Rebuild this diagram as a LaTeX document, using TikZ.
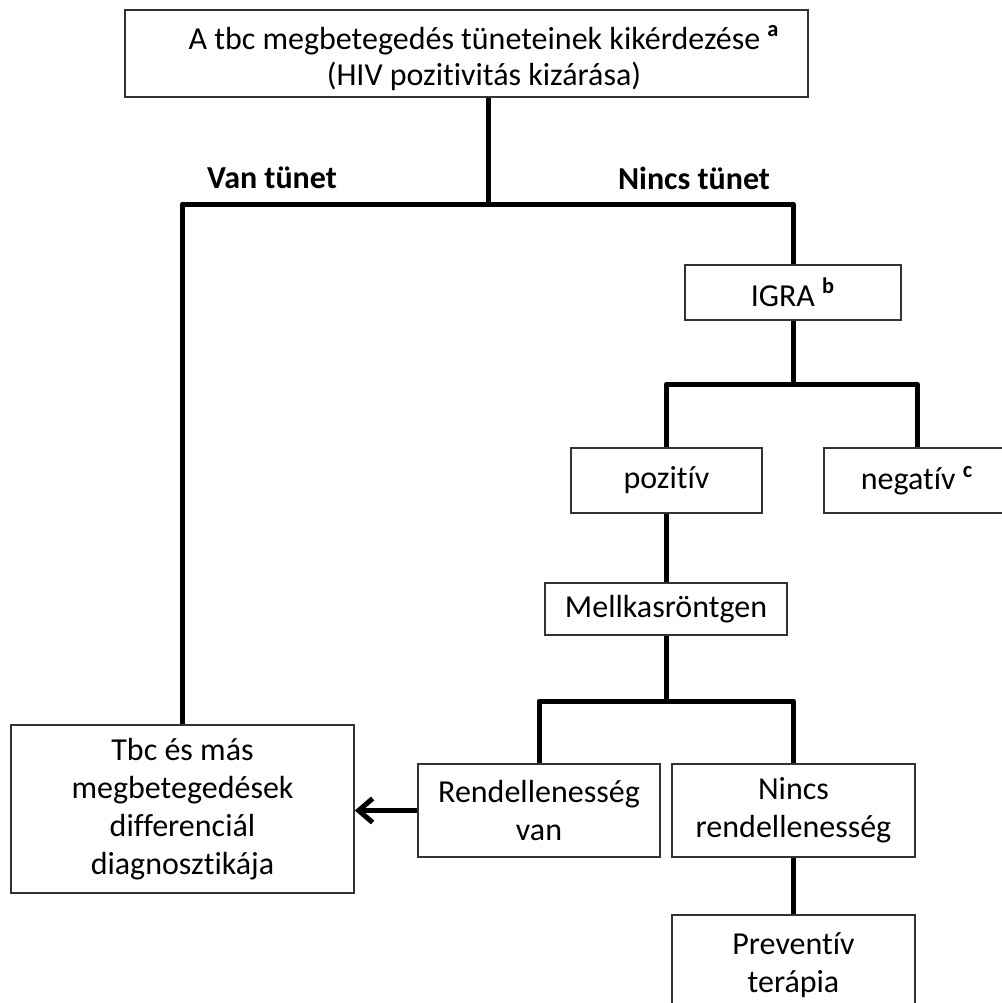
\documentclass[tikz,border=0pt]{standalone}
\usepackage{fontspec}
\setmainfont{Carlito}[Ligatures=NoCommon]
\usetikzlibrary{arrows.meta}
\begin{document}
\begin{tikzpicture}[x=0.5pt, y=-0.5pt,
        box/.style={draw=black!80, line width=0.8pt, align=center, inner sep=0pt, font=\fontsize{16}{19}\selectfont},
        txt/.style={align=center, inner sep=0pt, font=\fontsize{16}{18}\selectfont},
        conn/.style={line width=2.5pt, line join=round},
        lbl/.style={font=\fontsize{16}{19}\selectfont\bfseries}]
        \useasboundingbox (0,0) rectangle (1002,1003);
        % boxes
        \node[box, minimum width=341.5pt, minimum height=43.5pt] (kerd) at (466.5,53.5) {};
        \node[txt] (kerdtxt) at (484,58) {A tbc megbetegedés tüneteinek kikérdezése \textsuperscript{\bfseries a}\\(HIV pozitivitás kizárása)};
        \node[box, minimum width=108pt, minimum height=27.5pt] (igra) at (793,292.5) {IGRA \textsuperscript{\bfseries b}};
        \node[box, minimum width=95.5pt, minimum height=32.5pt] (poz) at (666.5,480.5) {pozitív};
        \node[box, minimum width=93pt, minimum height=32.5pt] (neg) at (917,480.5) {negatív \textsuperscript{\bfseries c}};
        \node[box, minimum width=121pt, minimum height=26pt] (rtg) at (666,609) {Mellkasröntgen};
        \node[box, minimum width=121pt, minimum height=46.5pt] (rend) at (539,810.5) {Rendellenesség\\van};
        \node[box, minimum width=121.5pt, minimum height=46.5pt] (nrend) at (793.5,810.5) {Nincs\\rendellenesség};
        \node[box, minimum width=171.5pt, minimum height=84pt] (diag) at (182.5,809) {Tbc és más\\megbetegedések\\differenciál\\diagnosztikája};
        \node[box, minimum width=121.5pt, minimum height=50pt] (prev) at (793.5,965) {Preventív\\terápia};
        \node[lbl] (van) at (272,178) {Van tünet};
        \node[lbl] (nincs) at (694,178) {Nincs tünet};
        % junctions
        \coordinate (j1) at (488,204);
        \coordinate (j2) at (793,384);
        \coordinate (j3) at (666,701);
        \draw[conn] (kerd.south -| j1) -- (j1);
        \draw[conn] (diag.north) -- (diag.north |- j1) -- (igra.north |- j1) -- (igra.north);
        \draw[conn] (igra.south) -- (j2);
        \draw[conn] (poz.north) -- (poz.north |- j2) -- (neg.north |- j2) -- (neg.north);
        \draw[conn] (poz.south) -- (poz.south |- rtg.north);
        \draw[conn] (rtg.south) -- (rtg.south |- j3);
        \draw[conn] (rend.north) -- (rend.north |- j3) -- (nrend.north |- j3) -- (nrend.north);
        \draw[conn] (nrend.south) -- (prev.north);
        \draw[conn, -{Straight Barb[length=7pt, width=12pt]}] (rend.west) -- (rend.west -| diag.east);
    \end{tikzpicture}
\end{document}
